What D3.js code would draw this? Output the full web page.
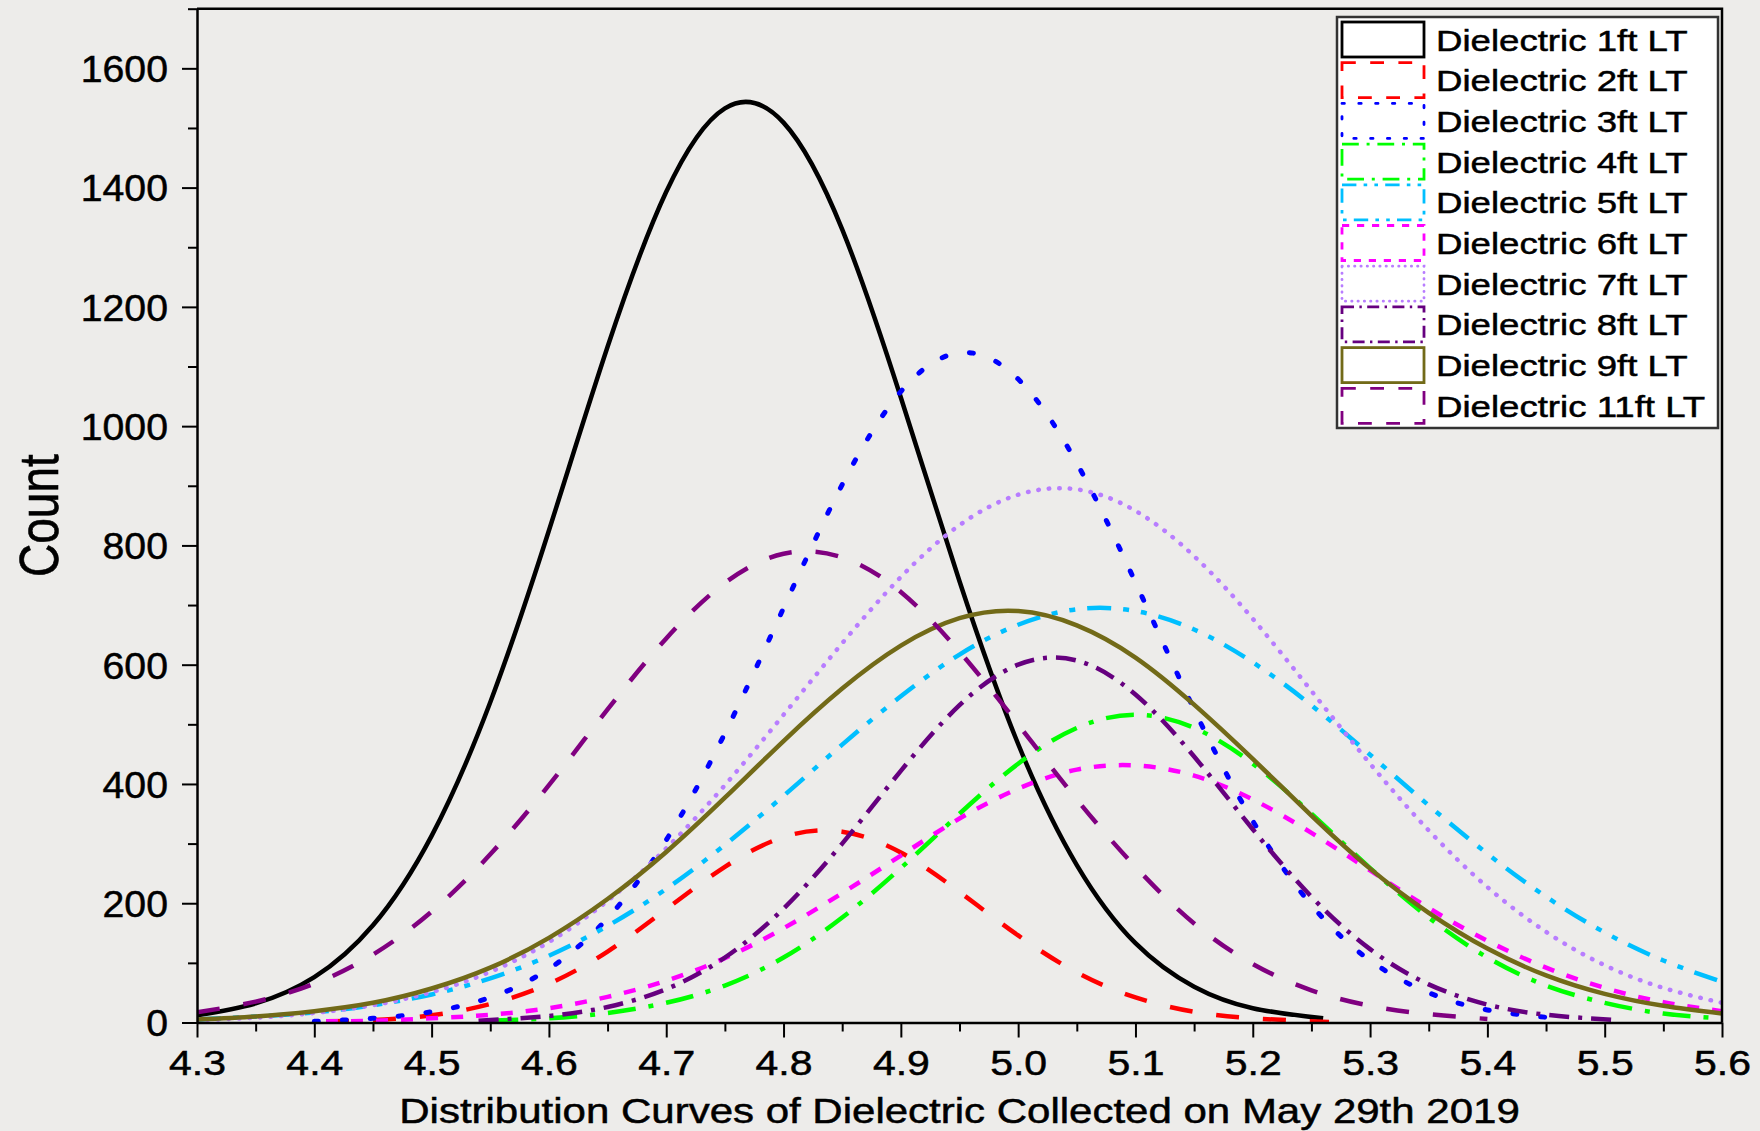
<!DOCTYPE html>
<head>
  <meta charset="utf-8" />
  <script src="https://d3js.org/d3.v7.min.js"></script>
  <style>
    body { margin: 0; background: #edecea; }
    svg { display: block; }
    text { font-family: "Liberation Sans", Arial, sans-serif; fill: #000; stroke: #000; stroke-width: 0.5px; }
  </style>
</head>

<body>
  <svg width="1760" height="1131"></svg>

  <script>
    // values: [dielectric, count]
    var ft1 = [[4.30, 12], [4.35, 32], [4.40, 76], [4.45, 163], [4.50, 313], [4.55, 537], [4.60, 825], [4.65, 1133], [4.70, 1393], [4.75, 1533], [4.80, 1509], [4.85, 1330], [4.90, 1048], [4.95, 740], [5.00, 467], [5.05, 264], [5.10, 133], [5.15, 60], [5.20, 24], [5.26, 7]];
    var ft2 = [[4.41, 2], [4.45, 4], [4.50, 12], [4.55, 31], [4.60, 65], [4.65, 119], [4.70, 190], [4.75, 261], [4.80, 311], [4.85, 320], [4.90, 285], [4.95, 219], [5.00, 146], [5.05, 84], [5.10, 42], [5.15, 18], [5.20, 7], [5.265, 1]];
    var ft3 = [[4.40, 2], [4.45, 7], [4.50, 18], [4.55, 42], [4.60, 90], [4.65, 175], [4.70, 306], [4.75, 485], [4.80, 695], [4.85, 902], [4.90, 1058], [4.95, 1123], [5.00, 1079], [5.05, 938], [5.10, 738], [5.15, 525], [5.20, 338], [5.25, 197], [5.30, 104], [5.35, 50], [5.40, 21], [5.46, 7]];
    var ft4 = [[4.55, 3], [4.60, 7], [4.65, 16], [4.70, 33], [4.75, 62], [4.80, 109], [4.85, 176], [4.90, 259], [4.95, 350], [5.00, 434], [5.05, 494], [5.10, 516], [5.15, 494], [5.20, 434], [5.25, 350], [5.30, 259], [5.35, 176], [5.40, 109], [5.45, 62], [5.50, 33], [5.55, 15], [5.60, 7]];
    var ft5 = [[4.30, 5], [4.35, 10], [4.40, 17], [4.45, 29], [4.50, 47], [4.55, 74], [4.60, 112], [4.65, 162], [4.70, 224], [4.75, 298], [4.80, 380], [4.85, 466], [4.90, 547], [4.95, 617], [5.00, 667], [5.05, 693], [5.10, 690], [5.15, 659], [5.20, 604], [5.25, 532], [5.30, 449], [5.35, 364], [5.40, 283], [5.45, 211], [5.50, 151], [5.55, 104], [5.60, 68]];
    var ft6 = [[4.41, 2], [4.45, 3], [4.50, 7], [4.55, 13], [4.60, 24], [4.65, 43], [4.70, 70], [4.75, 108], [4.80, 158], [4.85, 217], [4.90, 280], [4.95, 342], [5.00, 392], [5.05, 424], [5.10, 431], [5.15, 414], [5.20, 374], [5.25, 318], [5.30, 255], [5.35, 192], [5.40, 137], [5.45, 92], [5.50, 58], [5.55, 34], [5.60, 19]];
    var ft7 = [[4.30, 4], [4.35, 8], [4.40, 16], [4.45, 29], [4.50, 51], [4.55, 85], [4.60, 135], [4.65, 204], [4.70, 292], [4.75, 398], [4.80, 516], [4.85, 636], [4.90, 747], [4.95, 834], [5.00, 885], [5.05, 894], [5.10, 858], [5.15, 782], [5.20, 677], [5.25, 556], [5.30, 434], [5.35, 322], [5.40, 227], [5.45, 152], [5.50, 96], [5.55, 58], [5.60, 33]];
    var ft8 = [[4.54, 3], [4.60, 11], [4.65, 26], [4.70, 56], [4.75, 109], [4.80, 191], [4.85, 300], [4.90, 422], [4.95, 532], [5.00, 600], [5.05, 607], [5.10, 550], [5.15, 446], [5.20, 324], [5.25, 211], [5.30, 123], [5.35, 64], [5.40, 30], [5.45, 13], [5.51, 4]];
    var ft9 = [[4.30, 5], [4.35, 10], [4.40, 19], [4.45, 33], [4.50, 57], [4.55, 92], [4.60, 142], [4.65, 207], [4.70, 286], [4.75, 377], [4.80, 472], [4.85, 560], [4.90, 632], [4.95, 678], [5.00, 690], [5.05, 666], [5.10, 612], [5.15, 533], [5.20, 442], [5.25, 347], [5.30, 258], [5.35, 184], [5.40, 124], [5.45, 79], [5.50, 48], [5.55, 28], [5.60, 15]];
    var ft11 = [[4.30, 17], [4.35, 35], [4.40, 65], [4.45, 114], [4.50, 186], [4.55, 282], [4.60, 398], [4.65, 525], [4.70, 644], [4.75, 737], [4.80, 786], [4.85, 780], [4.90, 722], [4.95, 622], [5.00, 500], [5.05, 374], [5.10, 261], [5.15, 166], [5.20, 98], [5.25, 54], [5.30, 28], [5.35, 14], [5.40, 6]];

    var names = ["Dielectric 1ft LT", "Dielectric 2ft LT", "Dielectric 3ft LT", "Dielectric 4ft LT", "Dielectric 5ft LT",
      "Dielectric 6ft LT", "Dielectric 7ft LT", "Dielectric 8ft LT", "Dielectric 9ft LT", "Dielectric 11ft LT"];
    var series = [ft1, ft2, ft3, ft4, ft5, ft6, ft7, ft8, ft9, ft11];

    var xTicks = [4.3, 4.4, 4.5, 4.6, 4.7, 4.8, 4.9, 5.0, 5.1, 5.2, 5.3, 5.4, 5.5, 5.6];
    var xMinor = [4.35, 4.45, 4.55, 4.65, 4.75, 4.85, 4.95, 5.05, 5.15, 5.25, 5.35, 5.45, 5.55];
    var yTicks = [0, 200, 400, 600, 800, 1000, 1200, 1400, 1600];
    var yMinor = [100, 300, 500, 700, 900, 1100, 1300, 1500, 1700];

    // line styles
    var colors = ["#000000", "#ff0000", "#0000ff", "#00ff00", "#00bfff", "#ff00ff", "#b87dff", "#66007f", "#726a18", "#800080"];
    var dashes = [[], [23, 24], [4, 24], [28, 13, 5, 13], [24, 12, 6, 12, 6, 12], [12, 13], [0.5, 10], [20, 9, 4, 9], [], [23, 24]];
    var caps = ["butt", "butt", "round", "butt", "butt", "butt", "round", "butt", "butt", "butt"];

    var svg = d3.select("svg");
    var x = d3.scaleLinear().domain([4.3, 5.6]).range([197, 1722]);
    var y = d3.scaleLinear().domain([0, 1700]).range([1022.5, 8.7]);

    function stretch(sel, k) {
      sel.each(function () {
        var w = this.getComputedTextLength();
        d3.select(this).attr("textLength", w * k).attr("lengthAdjust", "spacingAndGlyphs");
      });
    }

    svg.append("rect").attr("width", 1760).attr("height", 1131).attr("fill", "#edecea");

    svg.append("defs").append("clipPath").attr("id", "plot").append("rect")
      .attr("x", x.range()[0]).attr("y", y.range()[1])
      .attr("width", x.range()[1] - x.range()[0])
      .attr("height", y.range()[0] - y.range()[1]);

    var line = d3.line()
      .x(function (d) { return x(d[0]); })
      .y(function (d) { return y(d[1]); })
      .curve(d3.curveNatural);

    var curves = svg.append("g").attr("clip-path", "url(#plot)");
    series.forEach(function (s, i) {
      curves.append("path")
        .attr("d", line(s))
        .attr("fill", "none")
        .attr("stroke", colors[i])
        .attr("stroke-width", i == 2 ? 5 : 4.5)
        .attr("stroke-linecap", caps[i])
        .attr("stroke-dasharray", dashes[i].length ? dashes[i].join(",") : null);
    });

    // frame top and right
    svg.append("path")
      .attr("d", "M" + x(4.3) + "," + y(1700) + "H" + x(5.6) + "V" + y(0))
      .attr("fill", "none").attr("stroke", "#000").attr("stroke-width", 2.5);

    // x axis
    var xAxis = svg.append("g")
      .attr("transform", "translate(0," + y(0) + ")")
      .attr("font-family", "Liberation Sans, Arial, sans-serif")
      .call(d3.axisBottom(x).tickValues(xTicks).tickSize(15).tickSizeOuter(0).tickFormat(d3.format(".1f")));
    xAxis.select(".domain").attr("stroke-width", 2.5);
    xAxis.selectAll(".tick line").attr("stroke-width", 2);
    xAxis.selectAll(".tick text").attr("y", 52.5).attr("dy", 0).attr("font-size", 35).call(stretch, 1.17);

    var xMin = svg.append("g")
      .attr("transform", "translate(0," + y(0) + ")")
      .call(d3.axisBottom(x).tickValues(xMinor).tickSize(9).tickFormat(""));
    xMin.select(".domain").remove();
    xMin.selectAll(".tick line").attr("stroke-width", 2);

    // y axis
    var yAxis = svg.append("g")
      .attr("transform", "translate(" + x(4.3) + ",0)")
      .attr("font-family", "Liberation Sans, Arial, sans-serif")
      .call(d3.axisLeft(y).tickValues(yTicks).tickSize(15).tickSizeOuter(0).tickFormat(d3.format("d")));
    yAxis.select(".domain").attr("stroke-width", 2.5);
    yAxis.selectAll(".tick line").attr("stroke-width", 2);
    yAxis.selectAll(".tick text").attr("x", -29).attr("dy", "0.36em").attr("font-size", 37).call(stretch, 1.06);

    var yMin = svg.append("g")
      .attr("transform", "translate(" + x(4.3) + ",0)")
      .call(d3.axisLeft(y).tickValues(yMinor).tickSize(9).tickFormat(""));
    yMin.select(".domain").remove();
    yMin.selectAll(".tick line").attr("stroke-width", 2);

    // axis titles
    svg.append("text")
      .attr("x", (x(4.3) + x(5.6)) / 2).attr("y", 1123)
      .attr("text-anchor", "middle").attr("font-size", 35)
      .text("Distribution Curves of Dielectric Collected on May 29th 2019")
      .call(stretch, 1.2);

    svg.append("text")
      .attr("transform", "translate(58," + (y(0) + y(1700)) / 2 + ") scale(1.2,1) rotate(-90)")
      .attr("text-anchor", "middle").attr("font-size", 46)
      .text("Count");

    // legend
    var legend = svg.append("g").attr("transform", "translate(1337,17)");
    legend.append("rect")
      .attr("width", 381).attr("height", 411)
      .attr("fill", "#fff").attr("stroke", "#333").attr("stroke-width", 2.5);

    names.forEach(function (n, i) {
      var row = legend.append("g").attr("transform", "translate(0," + (5 + i * 40.7) + ")");
      row.append("rect")
        .attr("x", 5).attr("y", 0).attr("width", 82).attr("height", 35)
        .attr("fill", "none")
        .attr("stroke", colors[i])
        .attr("stroke-width", 2.8)
        .attr("stroke-linecap", caps[i])
        .attr("stroke-dasharray", dashes[i].length ? dashes[i].map(function (v) { return v * 0.6; }).join(",") : null);
      row.append("text")
        .attr("x", 99).attr("y", 28.5)
        .attr("font-size", 30)
        .text(n)
        .call(stretch, 1.22);
    });
  </script>
</body>
